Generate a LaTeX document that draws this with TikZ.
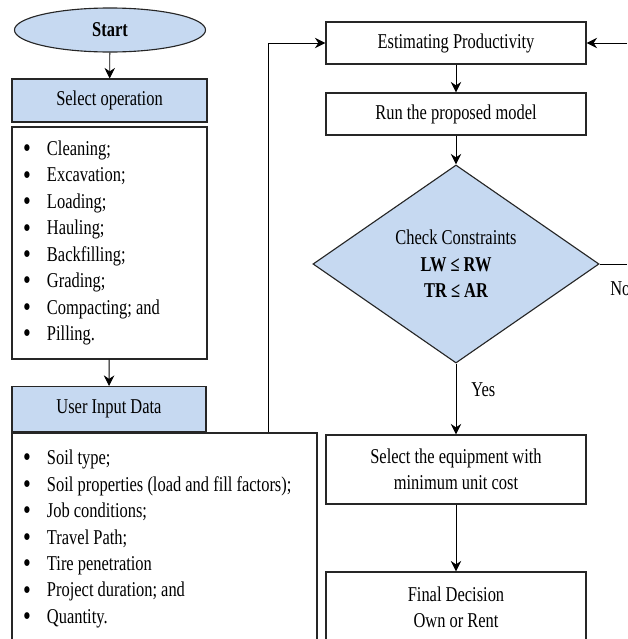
\documentclass[tikz,border=0pt]{standalone}
\usepackage{fontspec}
\setmainfont[FakeStretch=0.78]{Liberation Serif}
\usetikzlibrary{shapes.geometric,arrows.meta}
\definecolor{boxblue}{RGB}{198,217,241}
\newcommand{\bitem}{\makebox[0.625cm][l]{\hspace{0.03cm}\raisebox{-1.6pt}{\scalebox{1.35}{•}}}}

\begin{document}
\begin{tikzpicture}[x=0.025cm, y=-0.025cm,
  every node/.style={font=\fontsize{15}{18.8}\selectfont},
  flowbox/.style={draw=black!85, line width=.8pt, rectangle, inner sep=0pt, align=center},
  bluebox/.style={flowbox, fill=boxblue},
  listbox/.style={flowbox, align=flush left, inner xsep=0.25cm},
  arr/.style={semithick, -{Stealth[length=7.5pt,width=7.5pt,inset=2.5pt]}}]

    \useasboundingbox (0,0) rectangle (627,639);
    \clip (0,0) rectangle (627,639);

        % left column
        \node (start) at (110,30) [ellipse, draw=black!85, line width=.8pt, fill=boxblue,
            minimum width=4.775cm, minimum height=1.1cm, inner sep=0pt] {\bfseries Start};
        \node (selop) at (109.5,100.5) [bluebox, minimum width=4.875cm, minimum height=1.075cm] {Select operation};
        \node (opslist) at (109.5,243) [listbox, text width=4.375cm, minimum height=5.8cm]
            {\bitem Cleaning;\\ \bitem Excavation;\\ \bitem Loading;\\ \bitem Hauling;\\
             \bitem Backfilling;\\ \bitem Grading;\\ \bitem Compacting; and\\ \bitem Pilling.};
        \node (userin) at (109,409) [bluebox, minimum width=4.85cm, minimum height=1.125cm] {User Input Data};
        \node (inlist) at (164.5,539) [listbox, text width=7.125cm, minimum height=5.3cm]
            {\bitem Soil type;\\ \bitem Soil properties (load and fill factors);\\ \bitem Job conditions;\\
             \bitem Travel Path;\\ \bitem Tire penetration\\ \bitem Project duration; and\\ \bitem Quantity.};

        % right column
        \node (estim) at (456,43) [flowbox, minimum width=6.5cm, minimum height=1.05cm] {Estimating Productivity};
        \node (run) at (456,114) [flowbox, minimum width=6.5cm, minimum height=1.05cm] {Run the proposed model};
        \node (check) at (456,264) [diamond, draw=black!85, line width=.8pt, fill=boxblue, aspect=1.43,
            minimum width=7.15cm, minimum height=4.95cm, inner sep=0pt, align=center]
            {Check Constraints\\ \bfseries LW ≤ RW\\ \bfseries TR ≤ AR};
        \node (select) at (456,469.5) [flowbox, minimum width=6.5cm, minimum height=1.725cm]
            {Select the equipment with\\ minimum unit cost};
        \node (final) at (456,607) [flowbox, minimum width=6.5cm, minimum height=1.75cm]
            {Final Decision\\ Own or Rent};

        \node (yes) at (471,390) [anchor=west, inner sep=0pt] {Yes};
        \node (no) at (610,289) [anchor=west, inner sep=0pt] {No};

        \coordinate (turn) at (268,43);
        \coordinate (rin) at (627,43);
        \coordinate (rout) at (627,264);

        \draw[arr] (start) to (selop);
        \draw[arr] (opslist) to (userin);
        \draw[arr] (inlist.north -| turn) |- (estim);
        \draw[arr] (rin) to (estim);
        \draw[arr] (estim) to (run);
        \draw[arr] (run) to (check);
        \draw[semithick] (check.east) to (rout);
        \draw[arr] (check) to (select);
        \draw[arr] (select) to (final);

\end{tikzpicture}
\end{document}
